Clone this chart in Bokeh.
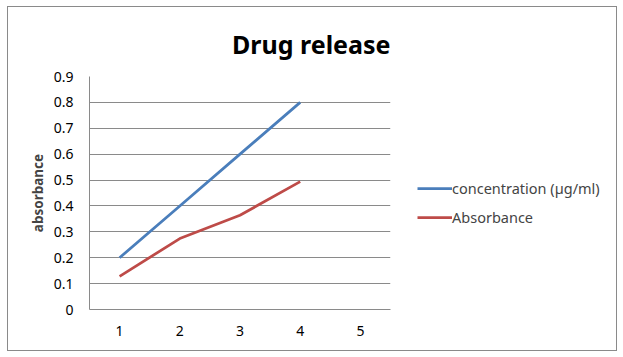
from bokeh.plotting import figure
from bokeh.layouts import row
from bokeh.models import FactorRange, Range1d, FixedTicker, Legend, LegendItem, Title
from bokeh.embed import file_html
from bokeh.resources import INLINE

categories = ["1", "2", "3", "4", "5"]
series_x = ["1", "2", "3", "4"]
concentration = [0.2, 0.4, 0.6, 0.8]
absorbance = [0.128, 0.274, 0.364, 0.494]
series_names = ["concentration (µg/ml)", "Absorbance"]
y_ticks = [0, 0.1, 0.2, 0.3, 0.4, 0.5, 0.6, 0.7, 0.8, 0.9]
y_tick_labels = ["0", "0.1", "0.2", "0.3", "0.4", "0.5", "0.6", "0.7", "0.8", "0.9"]

FONT = "Noto Sans"
GRAY = "#8a8a8a"
BLUE = "#4A7EBB"
RED = "#BE4B48"

p = figure(width=384, height=343, x_range=FactorRange(*categories, range_padding=0),
           y_range=Range1d(0, 0.9), output_backend="svg", toolbar_location=None,
           min_border_left=81, min_border_right=2, min_border_top=69, min_border_bottom=41)
p.outline_line_color = None
p.background_fill_color = "white"
p.border_fill_color = "white"

p.line(series_x, concentration, line_color=BLUE, line_width=2.75)
p.line(series_x, absorbance, line_color=RED, line_width=2.75)

p.xgrid.grid_line_color = None
p.ygrid.grid_line_color = GRAY
p.ygrid.ticker = FixedTicker(ticks=y_ticks)

p.yaxis.ticker = FixedTicker(ticks=y_ticks)
p.yaxis.major_label_overrides = {t: l for t, l in zip(y_ticks, y_tick_labels)}
p.yaxis.axis_label = "absorbance"
p.yaxis.axis_label_text_font = FONT
p.yaxis.axis_label_text_font_style = "bold"
p.yaxis.axis_label_text_font_size = "13.5px"
p.yaxis.axis_label_standoff = 4
p.yaxis.major_label_standoff = 16

for ax in (p.xaxis[0], p.yaxis[0]):
    ax.axis_line_color = GRAY
    ax.major_tick_line_color = None
    ax.minor_tick_line_color = None
    ax.major_tick_out = 0
    ax.major_tick_in = 0
    ax.major_label_text_font = FONT
    ax.major_label_text_font_size = "14px"
    ax.major_label_text_color = "black"
p.xaxis.major_label_standoff = 16

p.title = Title(text="Drug release", align="right", standoff=32, text_font=FONT,
                text_font_size="25px", text_font_style="bold", text_color="black")

# legend panel (its lines lie outside its visible range; only the legend shows)
q = figure(width=224, height=343, output_backend="svg", toolbar_location=None,
           min_border=0, x_range=FactorRange(*categories), y_range=Range1d(5, 6))
q.axis.visible = False
q.grid.visible = False
q.outline_line_color = None
q.background_fill_color = "white"
q.border_fill_color = "white"
l1 = q.line(series_x, concentration, line_color=BLUE, line_width=2.75)
l2 = q.line(series_x, absorbance, line_color=RED, line_width=2.75)
legend = Legend(items=[LegendItem(label=series_names[0], renderers=[l1]),
                       LegendItem(label=series_names[1], renderers=[l2])],
                location=(25, 82), glyph_width=35, glyph_height=20, label_height=20,
                spacing=9, padding=0, margin=0, label_standoff=0,
                border_line_color=None, background_fill_alpha=0,
                label_text_font=FONT, label_text_font_size="14.5px")
q.add_layout(legend, "center")

layout = row(p, q)
layout.styles = {"margin-left": "7px", "margin-top": "6px", "border": "1px solid #8a8a8a"}

open("out.html", "w").write(file_html(layout, INLINE))
